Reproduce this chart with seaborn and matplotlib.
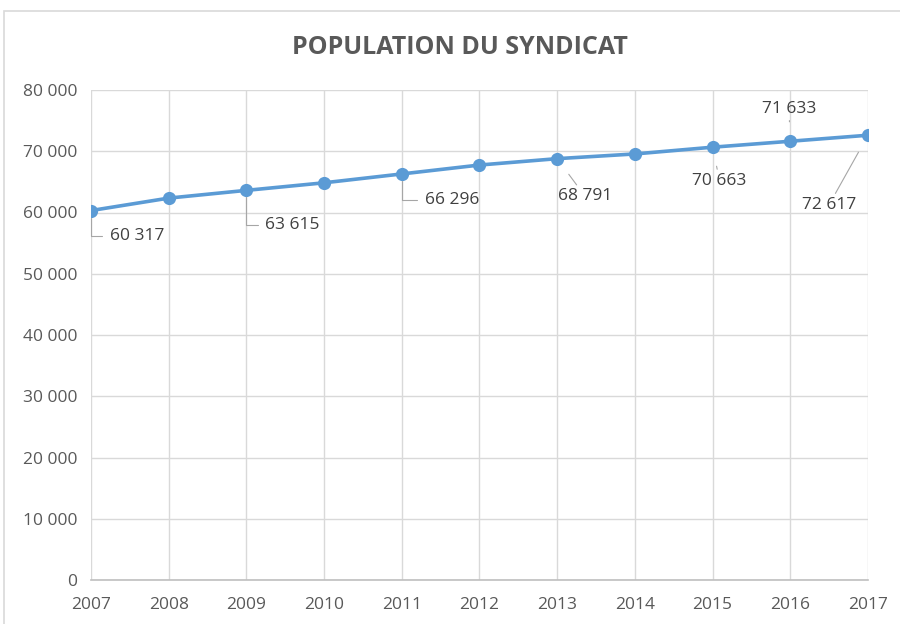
import matplotlib
matplotlib.use("Agg")
import matplotlib.pyplot as plt
import seaborn as sns
import pandas as pd
from matplotlib.patches import Rectangle

years = [2007, 2008, 2009, 2010, 2011, 2012, 2013, 2014, 2015, 2016, 2017]
population = [60317, 62350, 63615, 64850, 66296, 67750, 68791, 69560, 70663, 71633, 72617]
labelled_years = [2007, 2009, 2011, 2013, 2015, 2016, 2017]
elbow_years = [2007, 2009, 2011]
# label offsets in points (dx, dy) relative to the marker
label_offsets = {2007: (33, -18), 2009: (33, -25), 2011: (36, -19), 2013: (20, -27),
                 2015: (5, -24), 2016: (-1, 23), 2017: (-28, -50)}
title = "POPULATION DU SYNDICAT"
yticks = [0, 10000, 20000, 30000, 40000, 50000, 60000, 70000, 80000]

df = pd.DataFrame({"year": years, "population": population})

sns.set_theme(style="white")
plt.rcParams['font.family'] = ['Open Sans', 'DejaVu Sans']

fig = plt.figure(figsize=(9, 6.24), dpi=100)
ax = fig.add_axes([91/900, 44/624, (868-91)/900, (580-90)/624])

sns.lineplot(data=df, x="year", y="population", ax=ax, color="#5b9bd5",
             linewidth=2.6, marker="o", markersize=9.5, markeredgewidth=0)

ax.set_xlim(2007, 2017)
ax.set_ylim(0, 80000)
ax.set_xticks(years)
ax.set_xticklabels([str(y) for y in years], fontsize=12.5, color="#595959")
ax.set_yticks(yticks)
ax.set_yticklabels([f"{v:,}".replace(",", " ") for v in yticks], fontsize=12.5, color="#595959")
ax.tick_params(axis="x", length=0, pad=12)
ax.tick_params(axis="y", length=0, pad=10)
ax.set_xlabel("")
ax.set_ylabel("")
ax.grid(True, color="#d9d9d9", linewidth=1)
ax.set_axisbelow(True)
for s in ["left", "right", "top"]:
    ax.spines[s].set_visible(False)
ax.spines["bottom"].set_color("#bfbfbf")
ax.spines["bottom"].set_linewidth(1.2)

for yr in labelled_years:
    v = population[years.index(yr)]
    dx, dy = label_offsets[yr]
    if yr in elbow_years:
        arrow = dict(arrowstyle="-", color="#a6a6a6", lw=0.8, shrinkA=3, shrinkB=5,
                     connectionstyle="angle,angleA=0,angleB=90,rad=0")
    else:
        arrow = dict(arrowstyle="-", color="#a6a6a6", lw=0.8, shrinkA=0, shrinkB=14)
    ax.annotate(f"{v:,}".replace(",", " "), xy=(yr, v), xytext=(dx, dy),
                textcoords="offset points", ha="center", va="center",
                fontsize=12.5, color="#404040", arrowprops=arrow)

fig.text(460/900, 1 - 47/624, title, ha="center", va="center",
         fontsize=18, fontweight="bold", color="#595959")

fig.patches.append(Rectangle((4/900, -0.1), 1.2, (624-11)/624 + 0.1,
                             transform=fig.transFigure, fill=False,
                             edgecolor="#d9d9d9", linewidth=1.2))

fig.savefig("out.png", dpi=100)
